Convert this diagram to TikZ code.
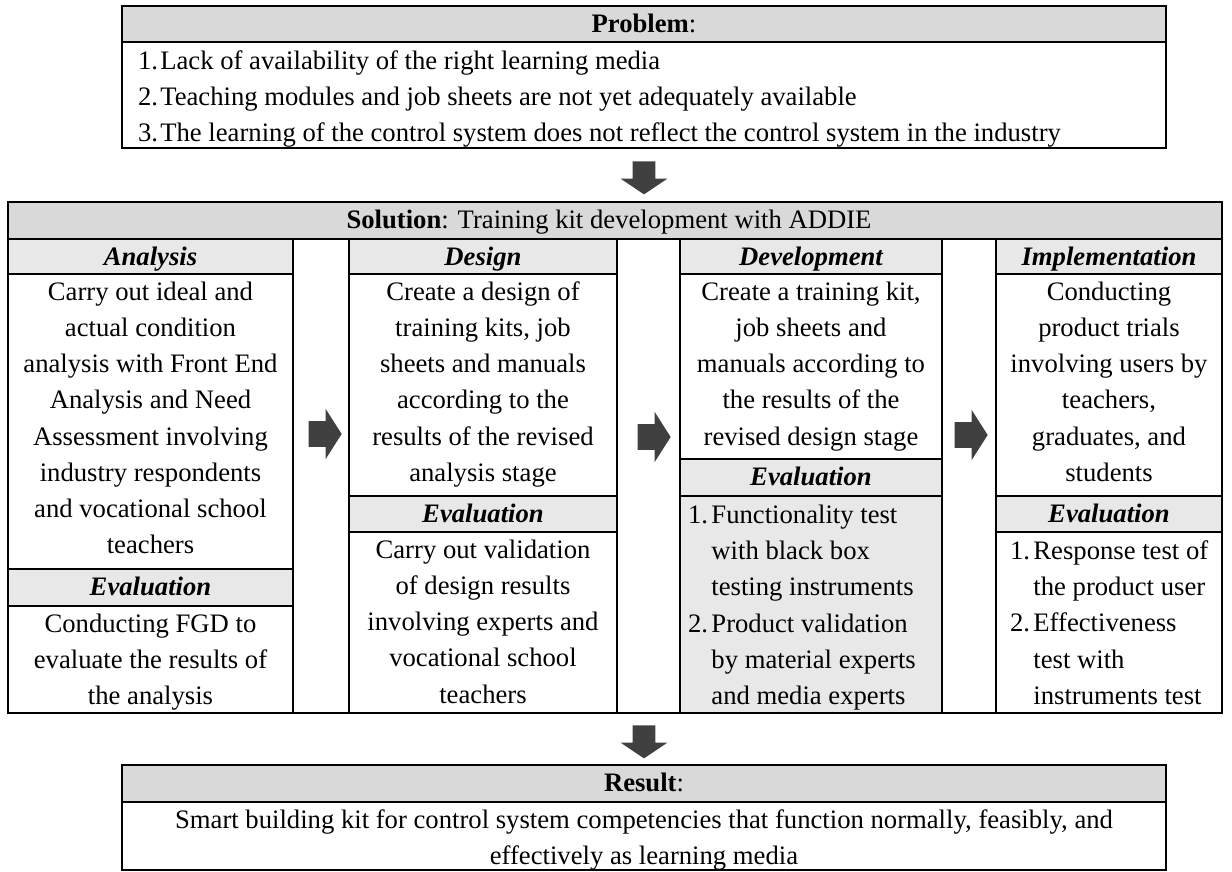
\documentclass[tikz,border=0pt]{standalone}
\usepackage{fontspec}
\setmainfont{Liberation Serif}
\usetikzlibrary{fit,shapes.arrows,positioning}

\definecolor{headgrey}{HTML}{D9D9D9}
\definecolor{subgrey}{HTML}{E8E8E8}
\definecolor{arrowgrey}{HTML}{404040}

% number label of a list item, and the hanging gap below it
\newcommand\numlbl[2][10.5pt]{\makebox[#1][l]{#2}}
\newcommand\hanggap[1][10.5pt]{\hspace*{#1}}

\tikzset{
  cellbox/.style={draw, line width=1.2pt, inner sep=0pt, fit={#1}},
  headcell/.style={cellbox={#1}, fill=headgrey},
  subcell/.style={cellbox={#1}, fill=subgrey},
  celltext/.style={anchor=north, inner sep=0.75pt, align=center},
  subtext/.style={celltext, font=\fontsize{12pt}{16.3pt}\selectfont\bfseries\itshape},
  listtext/.style={anchor=north west, inner sep=0.75pt, align=left},
  rarrow/.style={single arrow, fill=arrowgrey, draw=none, inner xsep=0pt, inner ysep=5.6pt,
    minimum height=14.9pt, single arrow head extend=5.6pt, single arrow tip angle=115},
  darrow/.style={rarrow, inner ysep=4.95pt, single arrow head extend=5.4pt,
    single arrow tip angle=112, rotate=-90}
}

\begin{document}
\begin{tikzpicture}[x=0.45pt, y=-0.45pt, font=\fontsize{12pt}{16.3pt}\selectfont]

    \useasboundingbox (0,0) rectangle (1232,872);

    % Problem
    \node (probhead) [headcell={(122,6) (1166,42)}] {};
    \node (probheadtxt) [celltext] at (probhead.north) {\strut\textbf{Problem}:};
    \node (probbody) [cellbox={(122,42) (1166,148)}] {};
    \node (problist) [listtext] at (136,42) {%
      \strut\numlbl[10pt]{1.}Lack of availability of the right learning media\\
      \numlbl[10pt]{2.}Teaching modules and job sheets are not yet adequately available\\
      \numlbl[10pt]{3.}The learning of the control system does not reflect the control system in the industry};

    \node (arrprob) [darrow] at (644,174) {};

    % Solution
    \node (solhead) [headcell={(8,202) (1222,239)}] {};
    \node (solheadtxt) [celltext] at ([xshift=-2.7pt]solhead.north) {\strut\textbf{Solution}: Training kit development with ADDIE};

    % Analysis column
    \node (anahead) [subcell={(8,239) (293,274)}] {};
    \node (anaheadtxt) [subtext] at (anahead.north) {\strut Analysis};
    \node (anabody) [cellbox={(8,274) (293,569)}] {};
    \node (anabodytxt) [celltext] at (anabody.north) {\strut Carry out ideal and\\actual condition\\analysis with Front End\\Analysis and Need\\Assessment involving\\industry respondents\\and vocational school\\teachers};
    \node (anaevhead) [subcell={(8,569) (293,606)}] {};
    \node (anaevheadtxt) [subtext] at (anaevhead.north) {\strut Evaluation};
    \node (anaevbody) [cellbox={(8,606) (293,713)}] {};
    \node (anaevbodytxt) [celltext] at (anaevbody.north) {\strut Conducting FGD to\\evaluate the results of\\the analysis};

    % Design column
    \node (deshead) [subcell={(349,239) (617,274)}] {};
    \node (desheadtxt) [subtext] at (deshead.north) {\strut Design};
    \node (desbody) [cellbox={(349,274) (617,496)}] {};
    \node (desbodytxt) [celltext] at (desbody.north) {\strut Create a design of\\training kits, job\\sheets and manuals\\according to the\\results of the revised\\analysis stage};
    \node (desevhead) [subcell={(349,496) (617,532)}] {};
    \node (desevheadtxt) [subtext] at (desevhead.north) {\strut Evaluation};
    \node (desevbody) [cellbox={(349,532) (617,713)}] {};
    \node (desevbodytxt) [celltext] at (desevbody.north) {\strut Carry out validation\\of design results\\involving experts and\\vocational school\\teachers};

    % Development column
    \node (devhead) [subcell={(680,239) (942,274)}] {};
    \node (devheadtxt) [subtext] at (devhead.north) {\strut Development};
    \node (devbody) [cellbox={(680,274) (942,459)}] {};
    \node (devbodytxt) [celltext] at (devbody.north) {\strut Create a training kit,\\job sheets and\\manuals according to\\the results of the\\revised design stage};
    \node (devevhead) [subcell={(680,459) (942,496)}] {};
    \node (devevheadtxt) [subtext] at (devevhead.north) {\strut Evaluation};
    \node (devevbody) [subcell={(680,496) (942,713)}] {};
    \node (devlist) [listtext] at (686,496) {%
      \strut\numlbl{1.}Functionality test\\
      \hanggap with black box\\
      \hanggap testing instruments\\
      \numlbl{2.}Product validation\\
      \hanggap by material experts\\
      \hanggap and media experts};

    % Implementation column
    \node (imphead) [subcell={(996,239) (1222,274)}] {};
    \node (impheadtxt) [subtext] at (imphead.north) {\strut Implementation};
    \node (impbody) [cellbox={(996,274) (1222,496)}] {};
    \node (impbodytxt) [celltext] at (impbody.north) {\strut Conducting\\product trials\\involving users by\\teachers,\\graduates, and\\students};
    \node (impevhead) [subcell={(996,496) (1222,532)}] {};
    \node (impevheadtxt) [subtext] at (impevhead.north) {\strut Evaluation};
    \node (impevbody) [cellbox={(996,532) (1222,713)}] {};
    \node (implist) [listtext] at (1008,532) {%
      \strut\numlbl{1.}Response test of\\
      \hanggap the product user\\
      \numlbl{2.}Effectiveness\\
      \hanggap test with\\
      \hanggap instruments test};

    % outer frame of the solution table
    \node (solframe) [cellbox={(8,202) (1222,713)}] {};

    % arrows between the stages
    \node (arrad) [rarrow] at (321,434) {};
    \node (arrdd) [rarrow] at (650,437) {};
    \node (arrdi) [rarrow] at (967,435) {};

    \node (arrres) [darrow] at (644,738) {};

    % Result
    \node (reshead) [headcell={(122,765) (1166,802)}] {};
    \node (resheadtxt) [celltext] at (reshead.north) {\strut\textbf{Result}:};
    \node (resbody) [cellbox={(122,802) (1166,870)}] {};
    \node (resbodytxt) [celltext] at (resbody.north) {\strut Smart building kit for control system competencies that function normally, feasibly, and\\effectively as learning media};

\end{tikzpicture}
\end{document}
